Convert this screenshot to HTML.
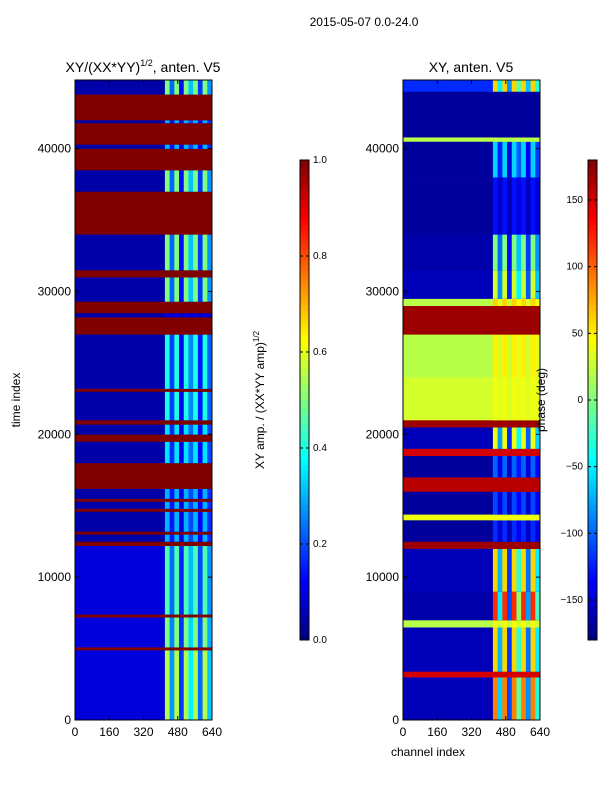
<!DOCTYPE html>
<html><head><meta charset="utf-8">
<style>
body{margin:0;background:#fff;font-family:"Liberation Sans",sans-serif;}
svg text{font-family:"Liberation Sans","DejaVu Sans",sans-serif;}
</style></head>
<body>
<svg id="chart" width="600" height="800" xmlns="http://www.w3.org/2000/svg">
<rect width="600" height="800" fill="#fff"/>
<text x="364" y="26" font-size="12" text-anchor="middle">2015-05-07 0.0-24.0</text>
<text x="143" y="72" font-size="14" text-anchor="middle">XY/(XX*YY)<tspan dy="-6" font-size="9">1/2</tspan><tspan dy="6">, anten. V5</tspan></text>
<text x="471" y="72" font-size="14" text-anchor="middle">XY, anten. V5</text>
<text transform="translate(20,400) rotate(-90)" font-size="12" text-anchor="middle">time index</text>
<text x="428" y="756" font-size="12" text-anchor="middle">channel index</text>
<text transform="translate(264,400) rotate(-90)" font-size="12" text-anchor="middle">XY amp. / (XX*YY amp)<tspan dy="-5" font-size="8">1/2</tspan></text>
<g id="left"></g><g id="right"></g><g id="cb"></g>
<text transform="translate(545,400) rotate(-90)" font-size="12" text-anchor="middle">phase (deg)</text>
</svg>
<script>
// time bands: start, end, base value, high-channel value (left: amplitude 0..1)
const ampStart=[0,4900,5100,7200,7400,12200,12500,13000,13200,14600,14800,15300,15500,16200,18000,19500,20000,20700,21000,23000,23200,27000,28200,28500,29300,31000,31500,34000,37000,38500,40000,40300,41800,42000,43800];
const ampEnd=[4900,5100,7200,7400,12200,12500,13000,13200,14600,14800,15300,15500,16200,18000,19500,20000,20700,21000,23000,23200,27000,28200,28500,29300,31000,31500,34000,37000,38500,40000,40300,41800,42000,43800,44800];
const ampBase=[0.09,1,0.09,1,0.09,1,0.04,1,0.04,1,0.04,1,0.04,1,0.04,1,0.04,1,0.04,1,0.04,1,0.04,1,0.04,1,0.04,1,0.04,1,0.04,1,0.04,1,0.04];
const ampHi=[0.55,1,0.5,1,0.45,1,0.3,1,0.3,1,0.3,1,0.3,1,0.35,1,0.35,1,0.4,1,0.4,1,0.1,1,0.5,1,0.5,1,0.5,1,0.3,1,0.3,1,0.5];
// right panel: phase in degrees
const phStart=[0,3000,3400,6500,7000,9000,12000,12500,14000,14400,16000,17000,18500,19000,20500,21000,24000,27000,27500,29000,29500,31500,34000,38000,40500,40800,41000,44000];
const phEnd=[3000,3400,6500,7000,9000,12000,12500,14000,14400,16000,17000,18500,19000,20500,21000,24000,27000,27500,29000,29500,31500,34000,38000,40500,40800,41000,44000,44800];
const phBase=[-160,150,-160,20,-165,-160,170,-170,40,-170,160,-170,150,-160,170,30,20,170,170,20,-160,-165,-170,-170,20,-170,-170,-120];
const phHi=[90,150,60,40,120,60,170,-120,40,-110,160,-100,150,40,170,40,50,170,170,60,30,0,-130,-60,20,-170,-170,60];
// channel pattern in high region (channels 420..640, 10 columns) - fraction weight of high value
const colPattern=[1,0.4,1,0.2,1,0.6,1,0.3,1,0.5];
const ampTicks=[0,0.2,0.4,0.6,0.8,1.0];
const phTicks=[-150,-100,-50,0,50,100,150];
const xTicks=[0,160,320,480,640];
const yTicks=[0,10000,20000,30000,40000];

const NS="http://www.w3.org/2000/svg";
const yT=t=>720-t*640/44800;
function jet(f){f=Math.max(0,Math.min(1,f));
 const c=x=>Math.round(255*Math.max(0,Math.min(1,1.5-Math.abs(4*f-x))));
 return `rgb(${c(3)},${c(2)},${c(1)})`;}
function mk(tag,attrs,parent){const e=document.createElementNS(NS,tag);for(const k in attrs)e.setAttribute(k,attrs[k]);parent.appendChild(e);return e;}
function panel(gid,x0,starts,ends,base,hi,norm){
 const g=document.getElementById(gid);
 const xC=c=>x0+c*137/640;
 for(let i=0;i<starts.length;i++){
  const y1=yT(ends[i]),h=yT(starts[i])-y1;
  let r=mk('rect',{x:xC(0),y:y1,width:137,height:h+0.3,fill:jet(norm(base[i]))},g);
  
  
  for(let j=0;j<colPattern.length;j++){
   const v=base[i]+(hi[i]-base[i])*colPattern[j];
   let c=mk('rect',{x:xC(420+j*22),y:y1,width:22*137/640+0.3,height:h+0.3,fill:jet(norm(v))},g);
   
   
  }
 }
 let fr=mk('rect',{x:x0,y:80,width:137,height:640,fill:'none',stroke:'#000'},g);
 
 
 xTicks.forEach(v=>{const x=xC(v);
  mk('line',{x1:x,x2:x,y1:720,y2:716,stroke:'#000'},g);mk('line',{x1:x,x2:x,y1:80,y2:84,stroke:'#000'},g);
  let t=mk('text',{x:x,y:736,'font-size':12,'text-anchor':'middle'},g);t.textContent=v;
  
  });
 yTicks.forEach(v=>{const y=yT(v);
  mk('line',{x1:x0,x2:x0+4,y1:y,y2:y,stroke:'#000'},g);mk('line',{x1:x0+137,x2:x0+133,y1:y,y2:y,stroke:'#000'},g);
  let t=mk('text',{x:x0-4,y:y+4,'font-size':12,'text-anchor':'end'},g);t.textContent=v;
  
  });
}
panel('left',75,ampStart,ampEnd,ampBase,ampHi,v=>v);
panel('right',403,phStart,phEnd,phBase,phHi,v=>(v+180)/360);
function colorbar(x,ticks,norm,fmt,name,left){
 const g=document.getElementById('cb');
 for(let k=0;k<96;k++){mk('rect',{x:x,y:640-(k+1)*5,width:9,height:5.3,fill:jet((k+0.5)/96)},g);}
 let f=mk('rect',{x:x,y:160,width:9,height:480,fill:'none',stroke:'#000'},g);
 
 
 ticks.forEach(v=>{const y=640-norm(v)*480;
  mk('line',{x1:x,x2:x+3,y1:y,y2:y,stroke:'#000'},g);mk('line',{x1:x+9,x2:x+6,y1:y,y2:y,stroke:'#000'},g);
  let t=mk('text',left?{x:x-5,y:y+3,'font-size':10,'text-anchor':'end'}:{x:x+13,y:y+3,'font-size':10},g);t.textContent=fmt(v);
  
  });
}
colorbar(300,ampTicks,v=>v,v=>v.toFixed(1),'amp-colorbar',false);
colorbar(588,phTicks,v=>(v+180)/360,v=>v<0?'\u2212'+(-v):String(v),'phase-colorbar',true);
</script>
</body></html>
